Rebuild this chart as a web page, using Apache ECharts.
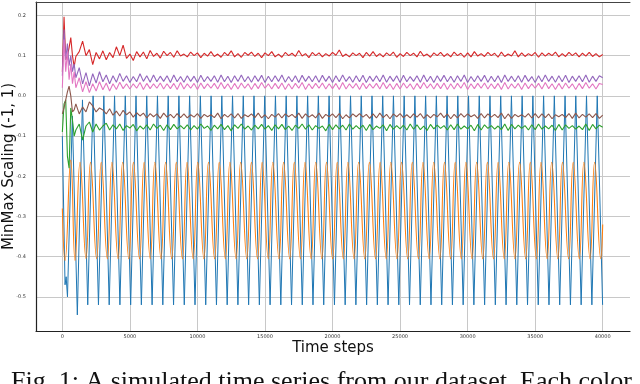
<!DOCTYPE html>
<html>
<head>
<meta charset="utf-8">
<script src="https://cdn.jsdelivr.net/npm/echarts@6/dist/echarts.min.js"></script>
<style>
  html, body { margin: 0; padding: 0; background: #fff; }
  #chart { width: 640px; height: 384px; }
</style>
</head>
<body>
<div id="chart"></div>
<script>
// blue: triangle wave, troughs / peaks
const blueSteps = [0, 200, 280, 380, 740, 1110, 1490,
  1880, 2277, 2674, 3071, 3468, 3865, 4262, 4659, 5056, 5453, 5850, 6247, 6644, 7041, 7438, 7835,
  8232, 8629, 9026, 9423, 9820, 10217, 10614, 11011, 11408, 11805, 12202, 12599, 12996, 13393, 13790, 14187,
  14584, 14981, 15378, 15775, 16172, 16569, 16966, 17363, 17760, 18157, 18554, 18951, 19348, 19745, 20142, 20539,
  20936, 21333, 21730, 22127, 22524, 22921, 23318, 23715, 24112, 24509, 24906, 25303, 25700, 26097, 26494, 26891,
  27288, 27685, 28082, 28479, 28876, 29273, 29670, 30067, 30464, 30861, 31258, 31655, 32052, 32449, 32846, 33243,
  33640, 34037, 34434, 34831, 35228, 35625, 36022, 36419, 36816, 37213, 37610, 38007, 38404, 38801, 39198, 39595,
  39992];
const blueValues = [-0.1, -0.47, -0.45, -0.5, -0.05, -0.545, -0.01,
  -0.52, 0, -0.52, 0, -0.52, 0, -0.52, 0, -0.52, 0, -0.52, 0, -0.52, 0, -0.52, 0,
  -0.52, 0, -0.52, 0, -0.52, 0, -0.52, 0, -0.52, 0, -0.52, 0, -0.52, 0, -0.52, 0,
  -0.52, 0, -0.52, 0, -0.52, 0, -0.52, 0, -0.52, 0, -0.52, 0, -0.52, 0, -0.52, 0,
  -0.52, 0, -0.52, 0, -0.52, 0, -0.52, 0, -0.52, 0, -0.52, 0, -0.52, 0, -0.52, 0,
  -0.52, 0, -0.52, 0, -0.52, 0, -0.52, 0, -0.52, 0, -0.52, 0, -0.52, 0, -0.52, 0,
  -0.52, 0, -0.52, 0, -0.52, 0, -0.52, 0, -0.52, 0, -0.52, 0, -0.52, 0, -0.52, 0,
  -0.52];

// orange: smooth wave, peaks / troughs
const orangeSteps = [0, 200, 620, 940, 1310, 1750,
  2085, 2537, 2879, 3331, 3673, 4125, 4467, 4919, 5261, 5713, 6055, 6507, 6849, 7301, 7643, 8095,
  8437, 8889, 9231, 9683, 10025, 10477, 10819, 11271, 11613, 12065, 12407, 12859, 13201, 13653, 13995, 14447,
  14789, 15241, 15583, 16035, 16377, 16829, 17171, 17623, 17965, 18417, 18759, 19211, 19553, 20005, 20347, 20799,
  21141, 21593, 21935, 22387, 22729, 23181, 23523, 23975, 24317, 24769, 25111, 25563, 25905, 26357, 26699, 27151,
  27493, 27945, 28287, 28739, 29081, 29533, 29875, 30327, 30669, 31121, 31463, 31915, 32257, 32709, 33051, 33503,
  33845, 34297, 34639, 35091, 35433, 35885, 36227, 36679, 37021, 37473, 37815, 38267, 38609, 39061, 39403, 39855,
  40000];
const orangeValues = [-0.28, -0.41, -0.16, -0.41, -0.165, -0.405,
  -0.165, -0.405, -0.165, -0.405, -0.165, -0.405, -0.165, -0.405, -0.165, -0.405, -0.165, -0.405, -0.165, -0.405, -0.165, -0.405,
  -0.165, -0.405, -0.165, -0.405, -0.165, -0.405, -0.165, -0.405, -0.165, -0.405, -0.165, -0.405, -0.165, -0.405, -0.165, -0.405,
  -0.165, -0.405, -0.165, -0.405, -0.165, -0.405, -0.165, -0.405, -0.165, -0.405, -0.165, -0.405, -0.165, -0.405, -0.165, -0.405,
  -0.165, -0.405, -0.165, -0.405, -0.165, -0.405, -0.165, -0.405, -0.165, -0.405, -0.165, -0.405, -0.165, -0.405, -0.165, -0.405,
  -0.165, -0.405, -0.165, -0.405, -0.165, -0.405, -0.165, -0.405, -0.165, -0.405, -0.165, -0.405, -0.165, -0.405, -0.165, -0.405,
  -0.165, -0.405, -0.165, -0.405, -0.165, -0.405, -0.165, -0.405, -0.165, -0.405, -0.165, -0.405, -0.165, -0.405, -0.165, -0.405,
  -0.32];

// sample times shared by the noisy series
const noiseSteps = [0, 125, 250, 375, 500, 625, 750, 875,
  1000, 1250, 1500, 1750, 2000, 2250, 2500, 2750,
  3000, 3250, 3500, 3750, 4000, 4250, 4500, 4750,
  5000, 5250, 5500, 5750, 6000, 6250, 6500, 6750,
  7000, 7250, 7500, 7750, 8000, 8250, 8500, 8750,
  9000, 9250, 9500, 9750, 10000, 10250, 10500, 10750,
  11000, 11250, 11500, 11750, 12000, 12250, 12500, 12750,
  13000, 13250, 13500, 13750, 14000, 14250, 14500, 14750,
  15000, 15250, 15500, 15750, 16000, 16250, 16500, 16750,
  17000, 17250, 17500, 17750, 18000, 18250, 18500, 18750,
  19000, 19250, 19500, 19750, 20000, 20250, 20500, 20750,
  21000, 21250, 21500, 21750, 22000, 22250, 22500, 22750,
  23000, 23250, 23500, 23750, 24000, 24250, 24500, 24750,
  25000, 25250, 25500, 25750, 26000, 26250, 26500, 26750,
  27000, 27250, 27500, 27750, 28000, 28250, 28500, 28750,
  29000, 29250, 29500, 29750, 30000, 30250, 30500, 30750,
  31000, 31250, 31500, 31750, 32000, 32250, 32500, 32750,
  33000, 33250, 33500, 33750, 34000, 34250, 34500, 34750,
  35000, 35250, 35500, 35750, 36000, 36250, 36500, 36750,
  37000, 37250, 37500, 37750, 38000, 38250, 38500, 38750,
  39000, 39250, 39500, 39750, 40000];

const greenValues = [-0.09, -0.02, -0.01, -0.15, -0.18, -0.03, -0.06, -0.1,
  -0.085, -0.07, -0.11, -0.075, -0.065, -0.09, -0.07, -0.085,
  -0.075, -0.068, -0.085, -0.072, -0.082, -0.07, -0.086, -0.074,
  -0.08, -0.071, -0.087, -0.075, -0.083, -0.072, -0.085, -0.07,
  -0.081, -0.073, -0.086, -0.072, -0.084, -0.071, -0.082, -0.074,
  -0.082, -0.072, -0.085, -0.074, -0.083, -0.07, -0.081, -0.075,
  -0.086, -0.073, -0.082, -0.071, -0.084, -0.074, -0.087, -0.072,
  -0.081, -0.07, -0.083, -0.075, -0.085, -0.073, -0.082, -0.071,
  -0.083, -0.074, -0.086, -0.072, -0.082, -0.071, -0.084, -0.075,
  -0.086, -0.073, -0.081, -0.07, -0.083, -0.072, -0.085, -0.074,
  -0.081, -0.075, -0.087, -0.071, -0.084, -0.072, -0.082, -0.073,
  -0.085, -0.07, -0.083, -0.074, -0.082, -0.073, -0.086, -0.071,
  -0.084, -0.075, -0.081, -0.072, -0.087, -0.071, -0.083, -0.074,
  -0.082, -0.073, -0.085, -0.07, -0.083, -0.072, -0.084, -0.075,
  -0.086, -0.071, -0.082, -0.073, -0.081, -0.074, -0.085, -0.072,
  -0.084, -0.07, -0.083, -0.075, -0.082, -0.073, -0.087, -0.071,
  -0.085, -0.072, -0.081, -0.074, -0.083, -0.075, -0.084, -0.07,
  -0.086, -0.071, -0.082, -0.073, -0.081, -0.074, -0.085, -0.072,
  -0.084, -0.07, -0.083, -0.075, -0.082, -0.073, -0.086, -0.071,
  -0.085, -0.072, -0.081, -0.074, -0.083, -0.075, -0.084, -0.07,
  -0.086, -0.071, -0.082, -0.073, -0.078];

const redValues = [0.06, 0.197, 0.09, 0.1, 0.12, 0.145, 0.1, 0.072,
  0.098, 0.11, 0.136, 0.1, 0.115, 0.078, 0.108, 0.092,
  0.112, 0.09, 0.108, 0.095, 0.122, 0.1, 0.126, 0.093,
  0.104, 0.088, 0.11, 0.097, 0.109, 0.092, 0.113, 0.098,
  0.106, 0.094, 0.111, 0.1, 0.108, 0.096, 0.112, 0.099,
  0.104, 0.097, 0.109, 0.1, 0.107, 0.095, 0.106, 0.099,
  0.11, 0.098, 0.104, 0.096, 0.108, 0.1, 0.112, 0.097,
  0.105, 0.096, 0.108, 0.101, 0.109, 0.098, 0.106, 0.095,
  0.107, 0.1, 0.11, 0.097, 0.104, 0.096, 0.108, 0.1,
  0.106, 0.098, 0.113, 0.099, 0.105, 0.095, 0.108, 0.1,
  0.107, 0.097, 0.105, 0.099, 0.108, 0.101, 0.114, 0.098,
  0.104, 0.097, 0.107, 0.1, 0.106, 0.095, 0.108, 0.099,
  0.11, 0.098, 0.105, 0.097, 0.107, 0.1, 0.109, 0.096,
  0.105, 0.098, 0.108, 0.1, 0.106, 0.097, 0.111, 0.099,
  0.104, 0.096, 0.107, 0.1, 0.108, 0.098, 0.105, 0.097,
  0.109, 0.1, 0.106, 0.096, 0.107, 0.097, 0.11, 0.099,
  0.105, 0.098, 0.108, 0.1, 0.106, 0.096, 0.109, 0.098,
  0.104, 0.099, 0.112, 0.097, 0.107, 0.098, 0.105, 0.1,
  0.108, 0.096, 0.107, 0.099, 0.106, 0.1, 0.109, 0.097,
  0.105, 0.098, 0.108, 0.1, 0.107, 0.097, 0.106, 0.099,
  0.108, 0.098, 0.105, 0.097, 0.103];

const purpleValues = [0.05, 0.165, 0.09, 0.13, 0.075, 0.1, 0.06, 0.08,
  0.045, 0.07, 0.03, 0.058, 0.025, 0.055, 0.032, 0.06,
  0.035, 0.052, 0.03, 0.05, 0.034, 0.056, 0.036, 0.05,
  0.033, 0.048, 0.035, 0.055, 0.036, 0.05, 0.034, 0.052,
  0.035, 0.049, 0.036, 0.05, 0.033, 0.052, 0.035, 0.048,
  0.034, 0.05, 0.036, 0.049, 0.033, 0.051, 0.035, 0.048,
  0.036, 0.05, 0.034, 0.052, 0.035, 0.049, 0.033, 0.05,
  0.036, 0.052, 0.035, 0.048, 0.034, 0.05, 0.036, 0.051,
  0.033, 0.049, 0.035, 0.05, 0.036, 0.052, 0.034, 0.048,
  0.035, 0.05, 0.033, 0.051, 0.036, 0.049, 0.035, 0.05,
  0.034, 0.051, 0.036, 0.049, 0.033, 0.05, 0.035, 0.052,
  0.036, 0.048, 0.034, 0.05, 0.035, 0.051, 0.033, 0.049,
  0.036, 0.05, 0.035, 0.052, 0.034, 0.049, 0.036, 0.05,
  0.033, 0.051, 0.035, 0.048, 0.036, 0.05, 0.034, 0.052,
  0.035, 0.049, 0.033, 0.05, 0.036, 0.051, 0.035, 0.049,
  0.034, 0.05, 0.036, 0.052, 0.033, 0.048, 0.035, 0.05,
  0.036, 0.051, 0.034, 0.049, 0.035, 0.05, 0.033, 0.052,
  0.036, 0.049, 0.035, 0.05, 0.034, 0.051, 0.036, 0.048,
  0.033, 0.05, 0.035, 0.052, 0.036, 0.049, 0.034, 0.05,
  0.035, 0.051, 0.033, 0.049, 0.036, 0.05, 0.035, 0.052,
  0.034, 0.049, 0.036, 0.05, 0.045];

const brownValues = [-0.045, -0.03, -0.01, 0.01, 0.024, 0.0, -0.04, -0.035,
  -0.02, -0.045, -0.028, -0.04, -0.015, -0.025, -0.04, -0.03,
  -0.035, -0.045, -0.032, -0.048, -0.038, -0.05, -0.036, -0.047,
  -0.04, -0.053, -0.042, -0.05, -0.043, -0.055, -0.044, -0.052,
  -0.045, -0.056, -0.043, -0.053, -0.046, -0.055, -0.044, -0.054,
  -0.045, -0.055, -0.047, -0.053, -0.044, -0.056, -0.046, -0.052,
  -0.047, -0.054, -0.043, -0.057, -0.046, -0.053, -0.045, -0.055,
  -0.044, -0.056, -0.047, -0.052, -0.045, -0.054, -0.043, -0.055,
  -0.047, -0.057, -0.046, -0.053, -0.044, -0.055, -0.045, -0.052,
  -0.046, -0.054, -0.043, -0.056, -0.045, -0.053, -0.047, -0.055,
  -0.043, -0.056, -0.046, -0.052, -0.045, -0.054, -0.044, -0.057,
  -0.047, -0.055, -0.045, -0.052, -0.044, -0.053, -0.046, -0.056,
  -0.045, -0.055, -0.043, -0.054, -0.046, -0.057, -0.045, -0.052,
  -0.044, -0.054, -0.047, -0.055, -0.045, -0.053, -0.044, -0.056,
  -0.047, -0.055, -0.046, -0.052, -0.043, -0.054, -0.045, -0.057,
  -0.046, -0.055, -0.044, -0.053, -0.045, -0.052, -0.047, -0.056,
  -0.044, -0.055, -0.045, -0.053, -0.046, -0.054, -0.043, -0.057,
  -0.045, -0.056, -0.046, -0.052, -0.047, -0.053, -0.044, -0.055,
  -0.044, -0.055, -0.045, -0.054, -0.045, -0.057, -0.047, -0.052,
  -0.046, -0.054, -0.044, -0.056, -0.043, -0.055, -0.046, -0.053,
  -0.045, -0.054, -0.044, -0.056, -0.048];

const pinkValues = [0.02, 0.14, 0.06, 0.11, 0.04, 0.08, 0.03, 0.06,
  0.02, 0.045, 0.01, 0.035, 0.008, 0.03, 0.012, 0.035,
  0.015, 0.032, 0.012, 0.03, 0.016, 0.034, 0.018, 0.03,
  0.017, 0.03, 0.019, 0.033, 0.016, 0.031, 0.018, 0.03,
  0.019, 0.032, 0.017, 0.03, 0.018, 0.031, 0.016, 0.033,
  0.017, 0.03, 0.019, 0.031, 0.016, 0.032, 0.018, 0.03,
  0.019, 0.031, 0.017, 0.033, 0.018, 0.03, 0.016, 0.031,
  0.017, 0.032, 0.019, 0.03, 0.016, 0.031, 0.018, 0.033,
  0.019, 0.03, 0.017, 0.031, 0.018, 0.032, 0.016, 0.03,
  0.017, 0.031, 0.019, 0.033, 0.016, 0.03, 0.018, 0.031,
  0.019, 0.032, 0.017, 0.03, 0.018, 0.031, 0.016, 0.033,
  0.017, 0.03, 0.019, 0.031, 0.016, 0.032, 0.018, 0.03,
  0.019, 0.031, 0.017, 0.033, 0.018, 0.03, 0.016, 0.031,
  0.017, 0.032, 0.019, 0.03, 0.016, 0.031, 0.018, 0.033,
  0.019, 0.03, 0.017, 0.031, 0.018, 0.032, 0.016, 0.03,
  0.017, 0.031, 0.019, 0.033, 0.016, 0.03, 0.018, 0.031,
  0.019, 0.032, 0.017, 0.03, 0.018, 0.031, 0.016, 0.033,
  0.017, 0.03, 0.019, 0.031, 0.016, 0.032, 0.018, 0.03,
  0.019, 0.031, 0.017, 0.033, 0.018, 0.03, 0.016, 0.031,
  0.017, 0.032, 0.019, 0.03, 0.016, 0.031, 0.018, 0.033,
  0.019, 0.03, 0.017, 0.031, 0.028];

const caption = 'Fig. 1: A simulated time series from our dataset. Each color';

const pairs = (xs, ys) => xs.slice(0, ys.length).map((x, i) => [x, ys[i]]);

function line(name, color, xs, ys, smooth, width) {
  return {
    name: name,
    type: 'line',
    data: pairs(xs, ys),
    showSymbol: false,
    smooth: !!smooth,
    sampling: null,
    lineStyle: { color: color, width: width || 1.1 },
    itemStyle: { color: color },
    silent: true
  };
}

const chart = echarts.init(document.getElementById('chart'));

chart.setOption({
  animation: false,
  backgroundColor: '#fff',
  grid: { left: 36, right: 10, top: 2, bottom: 53, containLabel: false, outerBoundsMode: 'none' },
  xAxis: [{
    type: 'value',
    min: -1950,
    max: 42020,
    splitNumber: 9,
    name: 'Time steps',
    nameLocation: 'middle',
    nameGap: 10,
    nameMoveOverlap: false,
    nameTextStyle: { fontFamily: 'DejaVu Sans', fontSize: 15, color: '#111', verticalAlign: 'top' },
    axisLine: { show: true, onZero: false, lineStyle: { color: '#222', width: 1.2 } },
    axisTick: { show: false },
    axisLabel: {
      fontFamily: 'DejaVu Sans', fontSize: 5, color: '#333', margin: 3,
      formatter: v => (v % 5000 === 0 ? String(v) : '')
    },
    splitLine: { show: true, showMaxLine: false, lineStyle: { color: '#c8c8c8', width: 1 } }
  }, {
    type: 'value',
    position: 'top',
    min: 0,
    max: 1,
    axisLine: { show: true, onZero: false, lineStyle: { color: '#444', width: 1 } },
    axisTick: { show: false },
    axisLabel: { show: false },
    splitLine: { show: false }
  }],
  yAxis: {
    type: 'value',
    min: -0.585,
    max: 0.2335,
    splitNumber: 8,
    name: 'MinMax Scaling (-1, 1)',
    nameLocation: 'middle',
    nameGap: 19,
    nameMoveOverlap: false,
    nameTextStyle: { fontFamily: 'DejaVu Sans', fontSize: 15, color: '#111' },
    axisLine: { show: true, onZero: false, lineStyle: { color: '#222', width: 1.2 } },
    axisTick: { show: false },
    axisLabel: {
      fontFamily: 'DejaVu Sans', fontSize: 5, color: '#333', margin: 10,
      formatter: v => {
        const r = Math.round(v * 10);
        return Math.abs(v * 10 - r) < 1e-6 ? (r / 10).toFixed(1) : '';
      }
    },
    splitLine: { show: true, lineStyle: { color: '#c8c8c8', width: 1 } }
  },
  graphic: [{
    type: 'text',
    left: 11,
    top: 369,
    style: { text: caption, font: '26px "Liberation Serif"', fill: '#111' }
  }],
  series: [
    line('s0', '#1f77b4', blueSteps, blueValues, false, 1),
    line('s1', '#ff7f0e', orangeSteps, orangeValues, true),
    line('s2', '#2ca02c', noiseSteps, greenValues),
    line('s3', '#d62728', noiseSteps, redValues),
    line('s4', '#9467bd', noiseSteps, purpleValues),
    line('s5', '#8c564b', noiseSteps, brownValues),
    line('s6', '#e377c2', noiseSteps, pinkValues)
  ]
});
</script>
</body>
</html>
